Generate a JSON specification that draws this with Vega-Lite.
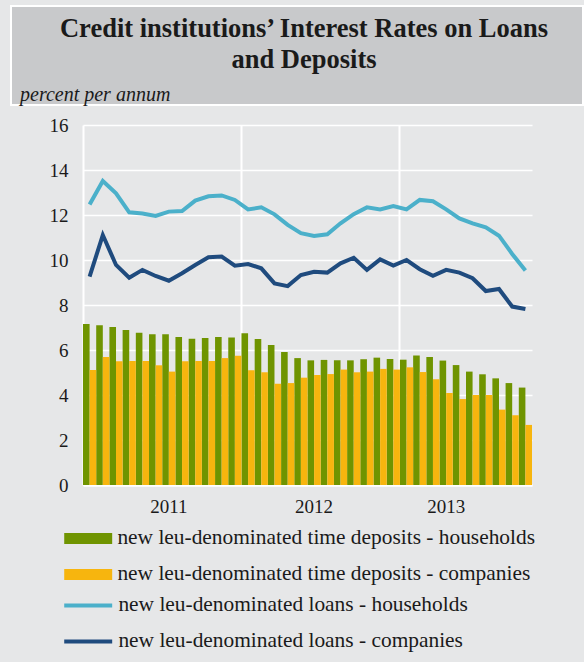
{
  "$schema": "https://vega.github.io/schema/vega-lite/v6.json",
  "background": "#e6e7e8",
  "padding": {"left": 10, "top": 5, "right": 0, "bottom": 12},
  "bounds": "flush",
  "spacing": 20,
  "config": {"view": {"stroke": null}, "font": "Liberation Serif"},
  "datasets": {
    "bars": [
      {"month": "2011-01", "series": "new leu-denominated time deposits - households", "value": 7.16},
      {"month": "2011-02", "series": "new leu-denominated time deposits - households", "value": 7.10},
      {"month": "2011-03", "series": "new leu-denominated time deposits - households", "value": 7.02},
      {"month": "2011-04", "series": "new leu-denominated time deposits - households", "value": 6.89},
      {"month": "2011-05", "series": "new leu-denominated time deposits - households", "value": 6.77},
      {"month": "2011-06", "series": "new leu-denominated time deposits - households", "value": 6.70},
      {"month": "2011-07", "series": "new leu-denominated time deposits - households", "value": 6.70},
      {"month": "2011-08", "series": "new leu-denominated time deposits - households", "value": 6.58},
      {"month": "2011-09", "series": "new leu-denominated time deposits - households", "value": 6.50},
      {"month": "2011-10", "series": "new leu-denominated time deposits - households", "value": 6.53},
      {"month": "2011-11", "series": "new leu-denominated time deposits - households", "value": 6.58},
      {"month": "2011-12", "series": "new leu-denominated time deposits - households", "value": 6.56},
      {"month": "2012-01", "series": "new leu-denominated time deposits - households", "value": 6.74},
      {"month": "2012-02", "series": "new leu-denominated time deposits - households", "value": 6.49},
      {"month": "2012-03", "series": "new leu-denominated time deposits - households", "value": 6.22},
      {"month": "2012-04", "series": "new leu-denominated time deposits - households", "value": 5.91},
      {"month": "2012-05", "series": "new leu-denominated time deposits - households", "value": 5.64},
      {"month": "2012-06", "series": "new leu-denominated time deposits - households", "value": 5.54},
      {"month": "2012-07", "series": "new leu-denominated time deposits - households", "value": 5.56},
      {"month": "2012-08", "series": "new leu-denominated time deposits - households", "value": 5.54},
      {"month": "2012-09", "series": "new leu-denominated time deposits - households", "value": 5.54},
      {"month": "2012-10", "series": "new leu-denominated time deposits - households", "value": 5.59},
      {"month": "2012-11", "series": "new leu-denominated time deposits - households", "value": 5.66},
      {"month": "2012-12", "series": "new leu-denominated time deposits - households", "value": 5.60},
      {"month": "2013-01", "series": "new leu-denominated time deposits - households", "value": 5.57},
      {"month": "2013-02", "series": "new leu-denominated time deposits - households", "value": 5.76},
      {"month": "2013-03", "series": "new leu-denominated time deposits - households", "value": 5.69},
      {"month": "2013-04", "series": "new leu-denominated time deposits - households", "value": 5.53},
      {"month": "2013-05", "series": "new leu-denominated time deposits - households", "value": 5.33},
      {"month": "2013-06", "series": "new leu-denominated time deposits - households", "value": 5.04},
      {"month": "2013-07", "series": "new leu-denominated time deposits - households", "value": 4.92},
      {"month": "2013-08", "series": "new leu-denominated time deposits - households", "value": 4.74},
      {"month": "2013-09", "series": "new leu-denominated time deposits - households", "value": 4.53},
      {"month": "2013-10", "series": "new leu-denominated time deposits - households", "value": 4.33},
      {"month": "2011-01", "series": "new leu-denominated time deposits - companies", "value": 5.11},
      {"month": "2011-02", "series": "new leu-denominated time deposits - companies", "value": 5.69},
      {"month": "2011-03", "series": "new leu-denominated time deposits - companies", "value": 5.50},
      {"month": "2011-04", "series": "new leu-denominated time deposits - companies", "value": 5.51},
      {"month": "2011-05", "series": "new leu-denominated time deposits - companies", "value": 5.51},
      {"month": "2011-06", "series": "new leu-denominated time deposits - companies", "value": 5.32},
      {"month": "2011-07", "series": "new leu-denominated time deposits - companies", "value": 5.04},
      {"month": "2011-08", "series": "new leu-denominated time deposits - companies", "value": 5.50},
      {"month": "2011-09", "series": "new leu-denominated time deposits - companies", "value": 5.51},
      {"month": "2011-10", "series": "new leu-denominated time deposits - companies", "value": 5.51},
      {"month": "2011-11", "series": "new leu-denominated time deposits - companies", "value": 5.64},
      {"month": "2011-12", "series": "new leu-denominated time deposits - companies", "value": 5.75},
      {"month": "2012-01", "series": "new leu-denominated time deposits - companies", "value": 5.10},
      {"month": "2012-02", "series": "new leu-denominated time deposits - companies", "value": 5.01},
      {"month": "2012-03", "series": "new leu-denominated time deposits - companies", "value": 4.50},
      {"month": "2012-04", "series": "new leu-denominated time deposits - companies", "value": 4.53},
      {"month": "2012-05", "series": "new leu-denominated time deposits - companies", "value": 4.77},
      {"month": "2012-06", "series": "new leu-denominated time deposits - companies", "value": 4.89},
      {"month": "2012-07", "series": "new leu-denominated time deposits - companies", "value": 4.93},
      {"month": "2012-08", "series": "new leu-denominated time deposits - companies", "value": 5.13},
      {"month": "2012-09", "series": "new leu-denominated time deposits - companies", "value": 5.01},
      {"month": "2012-10", "series": "new leu-denominated time deposits - companies", "value": 5.04},
      {"month": "2012-11", "series": "new leu-denominated time deposits - companies", "value": 5.16},
      {"month": "2012-12", "series": "new leu-denominated time deposits - companies", "value": 5.13},
      {"month": "2013-01", "series": "new leu-denominated time deposits - companies", "value": 5.23},
      {"month": "2013-02", "series": "new leu-denominated time deposits - companies", "value": 5.02},
      {"month": "2013-03", "series": "new leu-denominated time deposits - companies", "value": 4.70},
      {"month": "2013-04", "series": "new leu-denominated time deposits - companies", "value": 4.09},
      {"month": "2013-05", "series": "new leu-denominated time deposits - companies", "value": 3.82},
      {"month": "2013-06", "series": "new leu-denominated time deposits - companies", "value": 4.00},
      {"month": "2013-07", "series": "new leu-denominated time deposits - companies", "value": 4.00},
      {"month": "2013-08", "series": "new leu-denominated time deposits - companies", "value": 3.35},
      {"month": "2013-09", "series": "new leu-denominated time deposits - companies", "value": 3.10},
      {"month": "2013-10", "series": "new leu-denominated time deposits - companies", "value": 2.67}
    ],
    "lines": [
      {"month": "2011-01", "series": "new leu-denominated loans - households", "value": 12.47},
      {"month": "2011-02", "series": "new leu-denominated loans - households", "value": 13.51},
      {"month": "2011-03", "series": "new leu-denominated loans - households", "value": 12.96},
      {"month": "2011-04", "series": "new leu-denominated loans - households", "value": 12.12},
      {"month": "2011-05", "series": "new leu-denominated loans - households", "value": 12.07},
      {"month": "2011-06", "series": "new leu-denominated loans - households", "value": 11.96},
      {"month": "2011-07", "series": "new leu-denominated loans - households", "value": 12.15},
      {"month": "2011-08", "series": "new leu-denominated loans - households", "value": 12.18},
      {"month": "2011-09", "series": "new leu-denominated loans - households", "value": 12.64},
      {"month": "2011-10", "series": "new leu-denominated loans - households", "value": 12.83},
      {"month": "2011-11", "series": "new leu-denominated loans - households", "value": 12.87},
      {"month": "2011-12", "series": "new leu-denominated loans - households", "value": 12.67},
      {"month": "2012-01", "series": "new leu-denominated loans - households", "value": 12.25},
      {"month": "2012-02", "series": "new leu-denominated loans - households", "value": 12.34},
      {"month": "2012-03", "series": "new leu-denominated loans - households", "value": 12.03},
      {"month": "2012-04", "series": "new leu-denominated loans - households", "value": 11.56},
      {"month": "2012-05", "series": "new leu-denominated loans - households", "value": 11.19},
      {"month": "2012-06", "series": "new leu-denominated loans - households", "value": 11.07},
      {"month": "2012-07", "series": "new leu-denominated loans - households", "value": 11.14},
      {"month": "2012-08", "series": "new leu-denominated loans - households", "value": 11.63},
      {"month": "2012-09", "series": "new leu-denominated loans - households", "value": 12.04},
      {"month": "2012-10", "series": "new leu-denominated loans - households", "value": 12.34},
      {"month": "2012-11", "series": "new leu-denominated loans - households", "value": 12.25},
      {"month": "2012-12", "series": "new leu-denominated loans - households", "value": 12.40},
      {"month": "2013-01", "series": "new leu-denominated loans - households", "value": 12.25},
      {"month": "2013-02", "series": "new leu-denominated loans - households", "value": 12.67},
      {"month": "2013-03", "series": "new leu-denominated loans - households", "value": 12.61},
      {"month": "2013-04", "series": "new leu-denominated loans - households", "value": 12.25},
      {"month": "2013-05", "series": "new leu-denominated loans - households", "value": 11.85},
      {"month": "2013-06", "series": "new leu-denominated loans - households", "value": 11.63},
      {"month": "2013-07", "series": "new leu-denominated loans - households", "value": 11.45},
      {"month": "2013-08", "series": "new leu-denominated loans - households", "value": 11.08},
      {"month": "2013-09", "series": "new leu-denominated loans - households", "value": 10.27},
      {"month": "2013-10", "series": "new leu-denominated loans - households", "value": 9.53},
      {"month": "2011-01", "series": "new leu-denominated loans - companies", "value": 9.26},
      {"month": "2011-02", "series": "new leu-denominated loans - companies", "value": 11.11},
      {"month": "2011-03", "series": "new leu-denominated loans - companies", "value": 9.78},
      {"month": "2011-04", "series": "new leu-denominated loans - companies", "value": 9.21},
      {"month": "2011-05", "series": "new leu-denominated loans - companies", "value": 9.56},
      {"month": "2011-06", "series": "new leu-denominated loans - companies", "value": 9.29},
      {"month": "2011-07", "series": "new leu-denominated loans - companies", "value": 9.08},
      {"month": "2011-08", "series": "new leu-denominated loans - companies", "value": 9.41},
      {"month": "2011-09", "series": "new leu-denominated loans - companies", "value": 9.78},
      {"month": "2011-10", "series": "new leu-denominated loans - companies", "value": 10.12},
      {"month": "2011-11", "series": "new leu-denominated loans - companies", "value": 10.15},
      {"month": "2011-12", "series": "new leu-denominated loans - companies", "value": 9.75},
      {"month": "2012-01", "series": "new leu-denominated loans - companies", "value": 9.82},
      {"month": "2012-02", "series": "new leu-denominated loans - companies", "value": 9.63},
      {"month": "2012-03", "series": "new leu-denominated loans - companies", "value": 8.96},
      {"month": "2012-04", "series": "new leu-denominated loans - companies", "value": 8.84},
      {"month": "2012-05", "series": "new leu-denominated loans - companies", "value": 9.33},
      {"month": "2012-06", "series": "new leu-denominated loans - companies", "value": 9.48},
      {"month": "2012-07", "series": "new leu-denominated loans - companies", "value": 9.44},
      {"month": "2012-08", "series": "new leu-denominated loans - companies", "value": 9.85},
      {"month": "2012-09", "series": "new leu-denominated loans - companies", "value": 10.10},
      {"month": "2012-10", "series": "new leu-denominated loans - companies", "value": 9.56},
      {"month": "2012-11", "series": "new leu-denominated loans - companies", "value": 10.03},
      {"month": "2012-12", "series": "new leu-denominated loans - companies", "value": 9.75},
      {"month": "2013-01", "series": "new leu-denominated loans - companies", "value": 10.00},
      {"month": "2013-02", "series": "new leu-denominated loans - companies", "value": 9.59},
      {"month": "2013-03", "series": "new leu-denominated loans - companies", "value": 9.30},
      {"month": "2013-04", "series": "new leu-denominated loans - companies", "value": 9.56},
      {"month": "2013-05", "series": "new leu-denominated loans - companies", "value": 9.44},
      {"month": "2013-06", "series": "new leu-denominated loans - companies", "value": 9.19},
      {"month": "2013-07", "series": "new leu-denominated loans - companies", "value": 8.62},
      {"month": "2013-08", "series": "new leu-denominated loans - companies", "value": 8.71},
      {"month": "2013-09", "series": "new leu-denominated loans - companies", "value": 7.93},
      {"month": "2013-10", "series": "new leu-denominated loans - companies", "value": 7.82}
    ]
  },
  "vconcat": [
    {
      "width": 572,
      "height": 99,
      "view": {"fill": "#c8c9cb", "stroke": "white", "strokeWidth": 2},
      "data": {"values": [
        {"order": 1, "text": "Credit institutions’ Interest Rates on Loans"},
        {"order": 2, "text": "and Deposits"}
      ]},
      "title": {
        "text": "percent per annum",
        "orient": "bottom",
        "anchor": "start",
        "frame": "group",
        "offset": -4,
        "dx": 9,
        "baseline": "alphabetic",
        "font": "Liberation Serif",
        "fontStyle": "italic",
        "fontWeight": "normal",
        "fontSize": 20,
        "color": "#1a1a1a"
      },
      "mark": {
        "type": "text",
        "font": "Liberation Serif",
        "fontWeight": "bold",
        "fontSize": 26.5,
        "baseline": "alphabetic",
        "align": "center",
        "dx": 7,
        "color": "#1a1a1a"
      },
      "encoding": {
        "y": {"field": "order", "type": "ordinal", "scale": {"type": "point", "range": [31, 62], "padding": 0}, "axis": null},
        "text": {"field": "text", "type": "nominal"}
      }
    },
    {
      "bounds": "flush",
      "spacing": 0,
      "hconcat": [
        {
          "width": 72,
          "height": 360,
          "data": {"values": []},
          "mark": "text",
          "encoding": {}
        },
        {
          "width": 449,
          "height": 360,
          "resolve": {"axis": {"x": "independent"}},
          "layer": [
            {
              "data": {"name": "bars"},
              "mark": {"type": "bar"},
              "encoding": {
                "x": {
                  "field": "month",
                  "type": "ordinal",
                  "scale": {"paddingInner": 0, "paddingOuter": 0},
                  "axis": {
                    "orient": "bottom",
                    "values": ["2011-07", "2012-06", "2013-04"],
                    "labelExpr": "substring(datum.label, 0, 4)",
                    "title": null,
                    "ticks": false,
                    "grid": false,
                    "domain": true,
                    "domainColor": "white",
                    "domainWidth": 2.5,
                    "labelPadding": 12,
                    "labelAngle": 0,
                    "labelFont": "Liberation Serif",
                    "labelFontSize": 19,
                    "labelColor": "#1a1a1a"
                  }
                },
                "xOffset": {
                  "field": "series",
                  "type": "nominal",
                  "scale": {"domain": ["new leu-denominated time deposits - households", "new leu-denominated time deposits - companies"], "paddingInner": 0, "paddingOuter": 0}
                },
                "y": {
                  "field": "value",
                  "type": "quantitative",
                  "scale": {"domain": [0, 16]},
                  "axis": {
                    "values": [0, 2, 4, 6, 8, 10, 12, 14, 16],
                    "title": null,
                    "ticks": false,
                    "grid": true,
                    "gridColor": "white",
                    "gridWidth": 1.5,
                    "domain": true,
                    "domainColor": "white",
                    "domainWidth": 2,
                    "labelPadding": 15,
                    "labelFont": "Liberation Serif",
                    "labelFontSize": 19,
                    "labelColor": "#1a1a1a"
                  }
                },
                "fill": {
                  "field": "series",
                  "type": "nominal",
                  "scale": {
                    "domain": ["new leu-denominated time deposits - households", "new leu-denominated time deposits - companies"],
                    "range": ["#6f9400", "#f7b50e"]
                  },
                  "legend": {
                    "orient": "none",
                    "legendX": 66.5,
                    "legendY": 521.7,
                    "title": null,
                    "padding": 0,
                    "symbolType": "M-4.36,-1H4.36V1H-4.36Z",
                    "symbolSize": 121,
                    "symbolStrokeWidth": 0,
                    "labelOffset": 18.5,
                    "rowPadding": 13,
                    "labelLimit": 800,
                    "labelFont": "Liberation Serif",
                    "labelFontSize": 21.4,
                    "labelColor": "#1a1a1a"
                  }
                }
              }
            },
            {
              "data": {"name": "lines"},
              "mark": {"type": "line", "strokeWidth": 4},
              "encoding": {
                "x": {
                  "field": "month",
                  "type": "ordinal",
                  "axis": {
                    "orient": "bottom",
                    "values": ["2012-01", "2013-01"],
                    "bandPosition": 0,
                    "grid": true,
                    "gridColor": "white",
                    "gridWidth": 2,
                    "labels": false,
                    "ticks": false,
                    "domain": false,
                    "title": null
                  }
                },
                "y": {"field": "value", "type": "quantitative"},
                "stroke": {
                  "field": "series",
                  "type": "nominal",
                  "scale": {
                    "domain": ["new leu-denominated loans - households", "new leu-denominated loans - companies"],
                    "range": ["#4bb0ca", "#1f4b7e"]
                  },
                  "legend": {
                    "orient": "none",
                    "legendX": 66.5,
                    "legendY": 588.7,
                    "title": null,
                    "padding": 0,
                    "symbolType": "M-4.36,0H4.36",
                    "symbolSize": 121,
                    "symbolStrokeWidth": 4,
                    "labelOffset": 19.5,
                    "rowPadding": 13,
                    "labelLimit": 800,
                    "labelFont": "Liberation Serif",
                    "labelFontSize": 21.4,
                    "labelColor": "#1a1a1a"
                  }
                }
              }
            }
          ]
        }
      ]
    }
  ]
}
